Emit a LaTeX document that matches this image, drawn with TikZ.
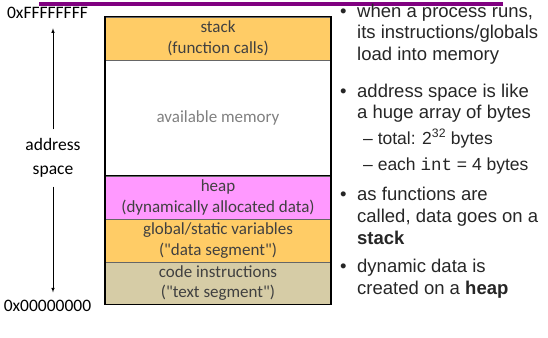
\documentclass[tikz,border=0pt]{standalone}
\usepackage{fontspec}
\setmainfont{Carlito}
\newfontfamily\quotefont{Carlito}
\newfontfamily\arialfont{Liberation Sans}
\newfontfamily\courfont{Liberation Mono}
\usetikzlibrary{arrows}
\definecolor{PurpleBar}{RGB}{128,0,128}
\definecolor{StackOrange}{RGB}{255,204,102}
\definecolor{HeapPink}{RGB}{255,153,255}
\definecolor{CodeTan}{RGB}{214,204,166}
\definecolor{LabelGray}{RGB}{64,64,64}
\definecolor{FreeGray}{RGB}{128,128,128}
\definecolor{TextGray}{RGB}{38,38,38}
\newcommand{\dq}{{\quotefont\char34}}
\tikzstyle{segment}  =[minimum width=225pt, inner sep=0pt, align=center, text=LabelGray, draw=black!60, line width=0.6pt, font=\fontsize{17}{20.5}\selectfont]
\tikzstyle{addrlabel}=[inner sep=0pt, align=center, font=\fontsize{17.5}{24}\selectfont]
\tikzstyle{puce}     =[anchor=base west, inner sep=0pt, text=TextGray, font=\arialfont\fontsize{18.5}{21.5}\selectfont]
\tikzstyle{souspuce} =[puce, font=\arialfont\fontsize{17.5}{21.5}\selectfont]

\begin{document}
\begin{tikzpicture}[x=1pt,y=-1pt]
 \useasboundingbox (0,0) rectangle (548,337);
 \draw[PurpleBar, line width=3.2pt] (39,4) -- (503,4);
 % memory segments
 \node[segment, fill=StackOrange, minimum height=43pt] (stack) at (218,38.5) {stack\\(function calls)};
 \node[segment, fill=white, minimum height=116pt, text=FreeGray] (free) at (218,118) {available memory};
 \node[segment, fill=HeapPink, minimum height=43pt] (heap) at (218,197.5) {heap\\(dynamically allocated data)};
 \node[segment, fill=StackOrange, minimum height=43pt] (data) at (218,240.5) {global/static variables\\(\dq data segment\dq)};
 \node[segment, fill=CodeTan, minimum height=42pt] (code) at (218,283) {code instructions\\(\dq text segment\dq)};
 \draw[line width=0.8pt] (heap.north west) -- (heap.north east);
 \draw[line width=1.6pt] (stack.north west) rectangle (code.south east);
 % address range
 \node[addrlabel, anchor=base] (hi) at (47.5,19) {0xFFFFFFFF};
 \node[addrlabel] (addr) at (53,158) {address\\space};
 \node[addrlabel, anchor=base] (lo) at (47.5,311) {0x00000000};
 \draw[-latex, line width=0.6pt, shorten <=9pt, shorten >=9pt] (addr.north) -- (addr.north |- hi.south);
 \draw[-latex, line width=0.6pt, shorten <=9pt, shorten >=7pt] (addr.south) -- (addr.south |- lo.north);
 % bullet list
 \node[puce] (p1) at (340,17.5) {•};
 \node[puce] (t1a) at (357,17.5) {when a process runs,};
 \node[puce] (t1b) at (357,39) {its instructions/globals};
 \node[puce] (t1c) at (357,60.5) {load into memory};
 \node[puce] (p2) at (340,97) {•};
 \node[puce] (t2a) at (357,97) {address space is like};
 \node[puce] (t2b) at (357,118.5) {a huge array of bytes};
 \node[souspuce] (s1) at (363,144) {– total: 2\textsuperscript{32} bytes};
 \node[souspuce] (s2) at (363,170) {– each {\courfont int} = 4 bytes};
 \node[puce] (p3) at (340,200) {•};
 \node[puce] (t3a) at (357,200) {as functions are};
 \node[puce] (t3b) at (357,222) {called, data goes on a};
 \node[puce] (t3c) at (357,244) {\textbf{stack}};
 \node[puce] (p4) at (340,272) {•};
 \node[puce] (t4a) at (357,272) {dynamic data is};
 \node[puce] (t4b) at (357,294) {created on a \textbf{heap}};
\end{tikzpicture}
\end{document}
